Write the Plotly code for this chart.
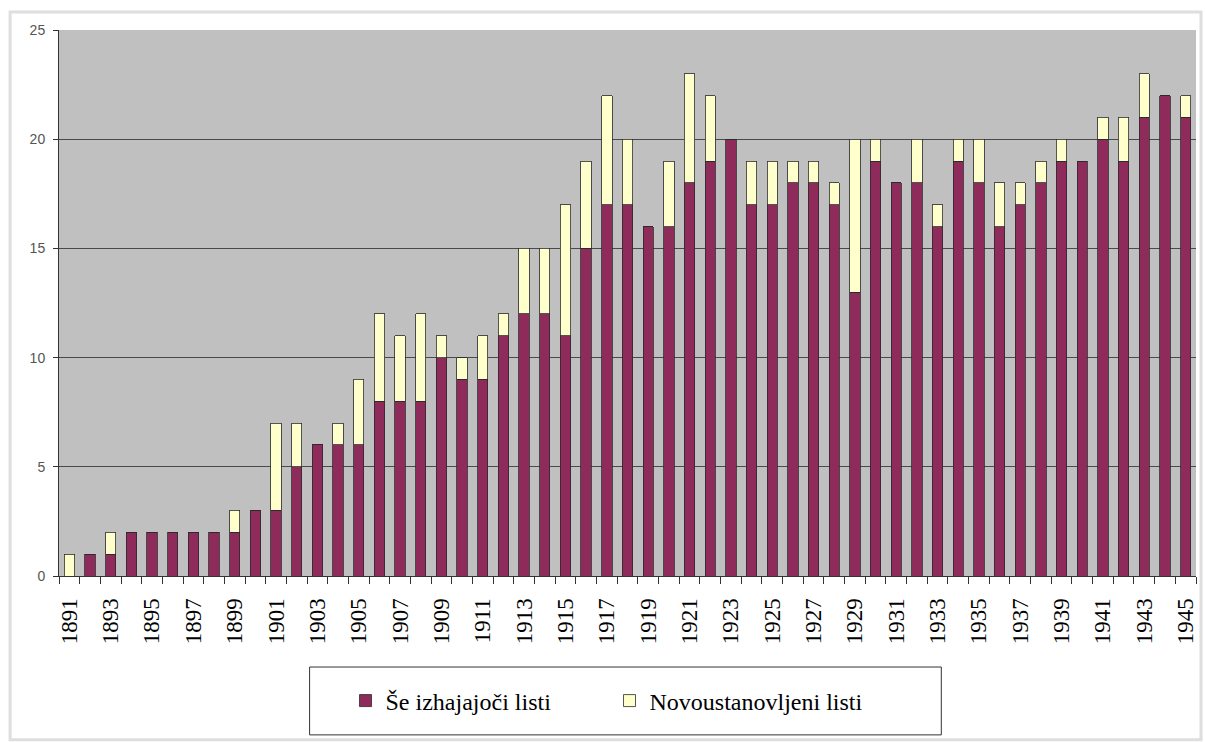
import plotly.graph_objects as go

# Years covered by the chart
years = list(range(1891, 1946))

# Papers still being published (continuing)
continuing = [0, 1, 1, 2, 2, 2, 2, 2, 2, 3,
              3, 5, 6, 6, 6, 8, 8, 8, 10, 9,
              9, 11, 12, 12, 11, 15, 17, 17, 16, 16,
              18, 19, 20, 17, 17, 18, 18, 17, 13, 19,
              18, 18, 16, 19, 18, 16, 17, 18, 19, 19,
              20, 19, 21, 22, 21]

# Newly founded papers in that year
founded = [1, 0, 1, 0, 0, 0, 0, 0, 1, 0,
           4, 2, 0, 1, 3, 4, 3, 4, 1, 1,
           2, 1, 3, 3, 6, 4, 5, 3, 0, 3,
           5, 3, 0, 2, 2, 1, 1, 1, 7, 1,
           0, 2, 1, 1, 2, 2, 1, 1, 1, 0,
           1, 2, 2, 0, 1]

series_names = ["Še izhajajoči listi", "Novoustanovljeni listi"]
label_years = [y for y in years if y % 2 == 1]

fig = go.Figure()
fig.add_trace(go.Bar(
    x=years, y=continuing, name=series_names[0], width=0.5,
    marker=dict(color="#8E2B5A", line=dict(color="#2a2a2a", width=0.8)),
))
fig.add_trace(go.Bar(
    x=years, y=founded, name=series_names[1], width=0.5,
    marker=dict(color="#FFFFCC", line=dict(color="#2a2a2a", width=0.8)),
))

# Outer chart frame
fig.add_shape(type="rect", xref="paper", yref="paper",
              x0=-0.043, x1=1.0044, y0=-0.300, y1=1.033,
              line=dict(color="#dedede", width=3), fillcolor="rgba(0,0,0,0)",
              layer="below")
# Legend box
fig.add_shape(type="rect", xref="paper", yref="paper",
              x0=0.2204, x1=0.776, y0=-0.291, y1=-0.1667,
              line=dict(color="#333333", width=1), fillcolor="white",
              layer="below")

fig.update_layout(
    width=1205, height=742,
    margin=dict(l=59, r=7, t=30, b=166),
    paper_bgcolor="white",
    plot_bgcolor="#C0C0C0",
    barmode="stack",
    showlegend=True,
    legend=dict(
        orientation="h", x=0.252, xanchor="left", y=-0.2289, yanchor="middle",
        bgcolor="rgba(0,0,0,0)", borderwidth=0,
        font=dict(family="Liberation Serif", size=24, color="black"),
        entrywidth=219, entrywidthmode="pixels", traceorder="normal",
    ),
    xaxis=dict(
        range=[1890.5, 1945.5],
        tickmode="array", tickvals=label_years, ticktext=[str(y) for y in label_years],
        tickangle=-90, ticks="", ticklen=0, ticklabelstandoff=12,
        tickfont=dict(family="Liberation Serif", size=23, color="black"),
        showgrid=False, zeroline=False,
        showline=True, linecolor="#333333", linewidth=1,
        minor=dict(tickmode="linear", tick0=1890.5, dtick=1, ticks="outside",
                   ticklen=7, tickcolor="#333333", showgrid=False),
    ),
    yaxis=dict(
        range=[0, 25], tickmode="linear", tick0=0, dtick=5,
        ticks="outside", ticklen=5, tickcolor="#333333", ticklabelstandoff=5,
        tickfont=dict(family="Liberation Sans", size=14, color="#555555"),
        showgrid=True, gridcolor="#4a4a4a", gridwidth=1,
        zeroline=False, showline=True, linecolor="#333333", linewidth=1,
    ),
)

fig.write_html("out.html")
